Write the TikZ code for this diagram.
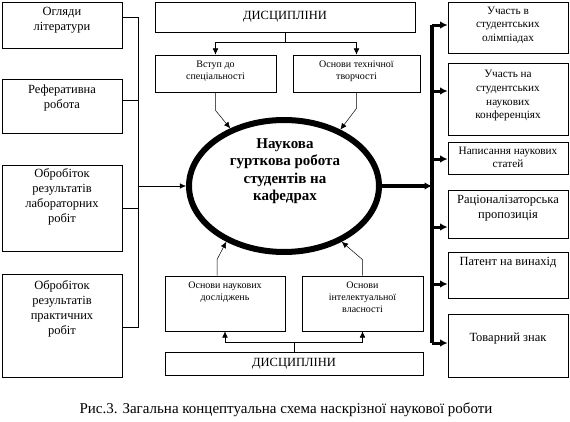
\documentclass[tikz,border=0pt]{standalone}
\usepackage{fontspec}
\setmainfont{Liberation Serif}
\usetikzlibrary{fit, arrows.meta, shapes.geometric}

\begin{document}
\begin{tikzpicture}[x=0.8pt, y=-0.8pt, >={Latex[length=5pt,width=4.5pt]},
    blok/.style={draw, line width=0.6pt, inner sep=0pt},
    napys/.style={anchor=north, align=center, inner sep=1pt},
    tovsta/.style={line width=2.4pt, -{Latex[length=6pt,width=6pt]}}]
    \useasboundingbox (0,0) rectangle (570,422);

    % 1. Ліві блоки
    \node[blok, fit={(2,2) (122,48)}] (L1) {};
    \node[blok, fit={(2,79) (122,133)}] (L2) {};
    \node[blok, fit={(2,165) (122,251)}] (L3) {};
    \node[blok, fit={(2,274) (122,377)}] (L4) {};
    \node[napys] (L1t) at ([yshift=-3pt]L1.north) {Огляди\\літератури};
    \node[napys] (L2t) at ([yshift=-4pt]L2.north) {Реферативна\\робота};
    \node[napys] (L3t) at ([yshift=-2pt]L3.north) {Обробіток\\результатів\\лабораторних\\робіт};
    \node[napys] (L4t) at ([yshift=-4pt]L4.north) {Обробіток\\результатів\\практичних\\робіт};

    % 2. Центральний еліпс
    \node[ellipse, draw, line width=4.8pt, inner sep=0pt,
          minimum width=152pt, minimum height=105.6pt] (ell) at (284,186) {};
    \node[align=center, font=\large\bfseries] (ellt) at (285,171)
        {Наукова\\гурткова робота\\студентів на\\кафедрах};

    % 3. Дисципліни зверху
    \node[blok, fit={(155,2) (415,32)}] (D1) {};
    \node (D1t) at (D1.center) {ДИСЦИПЛІНИ};
    \node[blok, fit={(155,55) (276,92)}] (V1) {};
    \node[blok, fit={(293,55) (420,92)}] (V2) {};
    \node[napys, font=\footnotesize] (V1t) at ([yshift=-4pt]V1.north) {Вступ до\\спеціальності};
    \node[napys, font=\footnotesize] (V2t) at ([yshift=-4pt]V2.north) {Основи технічної\\творчості};

    \coordinate (tj) at ([yshift=-8pt]D1.south);
    \draw (D1.south) -- (tj);
    \draw[->] (tj) -| (V1.north);
    \draw[->] (tj) -| (V2.north);
    \draw[->] (V1.south) -- ++(0,18) -- (ell.133);
    \draw[->] (V2.south) -- ++(0,16) -- (ell.45);

    % 4. Дисципліни знизу
    \node[blok, fit={(165,276) (285,331)}] (B1) {};
    \node[blok, fit={(302,276) (423,331)}] (B2) {};
    \node[napys, font=\footnotesize] (B1t) at ([yshift=-4pt]B1.north) {Основи наукових\\досліджень};
    \node[napys, font=\footnotesize] (B2t) at ([yshift=-4pt]B2.north) {Основи\\інтелектуальної\\власності};
    \node[blok, fit={(165,352) (423,375)}] (D2) {};
    \node (D2t) at (D2.center) {ДИСЦИПЛІНИ};

    \coordinate (bj) at ([yshift=7.2pt]D2.north);
    \draw (D2.north) -- (bj);
    \draw[->] (bj) -| (B1.south);
    \draw[->] (bj) -| (B2.south);
    \draw[->] ([xshift=-6.4pt]B1.north) -- ++(0,-16) -- (ell.224);
    \draw[->] (B2.north) -- ++(0,-16) -- (ell.316);

    % 5. Ліва скоба
    \coordinate (lb) at (138,327);
    \coordinate (s1) at ([yshift=6.4pt]L1.east);
    \coordinate (s2) at ([yshift=4.8pt]L2.east);
    \draw (s1) -| (lb) -- (L4.east |- lb);
    \draw (s2) -- (s2 -| lb);
    \draw (L3.east) -- (L3.east -| lb);
    \draw[->] (lb |- ell.west) -- (ell.west);

    % 6. Праві блоки
    \node[blok, fit={(448,2) (568,53)}] (R1) {};
    \node[blok, fit={(448,63) (568,135)}] (R2) {};
    \node[blok, fit={(448,142) (568,174)}] (R3) {};
    \node[blok, fit={(448,190) (568,238)}] (R4) {};
    \node[blok, fit={(448,252) (568,298)}] (R5) {};
    \node[blok, fit={(448,314) (568,377)}] (R6) {};
    \node[napys, font=\small] (R1t) at ([yshift=-3pt]R1.north) {Участь в\\студентських\\олімпіадах};
    \node[napys, font=\small] (R2t) at ([yshift=-5pt]R2.north) {Участь на\\студентських\\наукових\\конференціях};
    \node[napys, font=\small] (R3t) at ([yshift=-3pt]R3.north) {Написання наукових\\статей};
    \node[napys] (R4t) at ([yshift=-3pt]R4.north) {Раціоналізаторська\\пропозиція};
    \node[napys] (R5t) at ([yshift=-3pt]R5.north) {Патент на винахід};
    \node[napys] (R6t) at ([yshift=-14pt]R6.north) {Товарний знак};

    \coordinate (rt) at (432,25);
    \coordinate (rb) at (432,343);
    \draw[line width=3.2pt] (rt) -- (rb);
    \draw[tovsta, line width=3.2pt] (ell.east) -- (ell.east -| rt);
    \foreach \b/\y in {R1/25, R2/91, R3/159, R4/227, R5/284, R6/343}
        \draw[tovsta] (432,\y) -- (\b.west |- 0,\y);

    % 7. Підпис
    \node[font=\large] (pidpys) at (286,410)
        {Рис.3. Загальна концептуальна схема наскрізної наукової роботи};
\end{tikzpicture}
\end{document}
